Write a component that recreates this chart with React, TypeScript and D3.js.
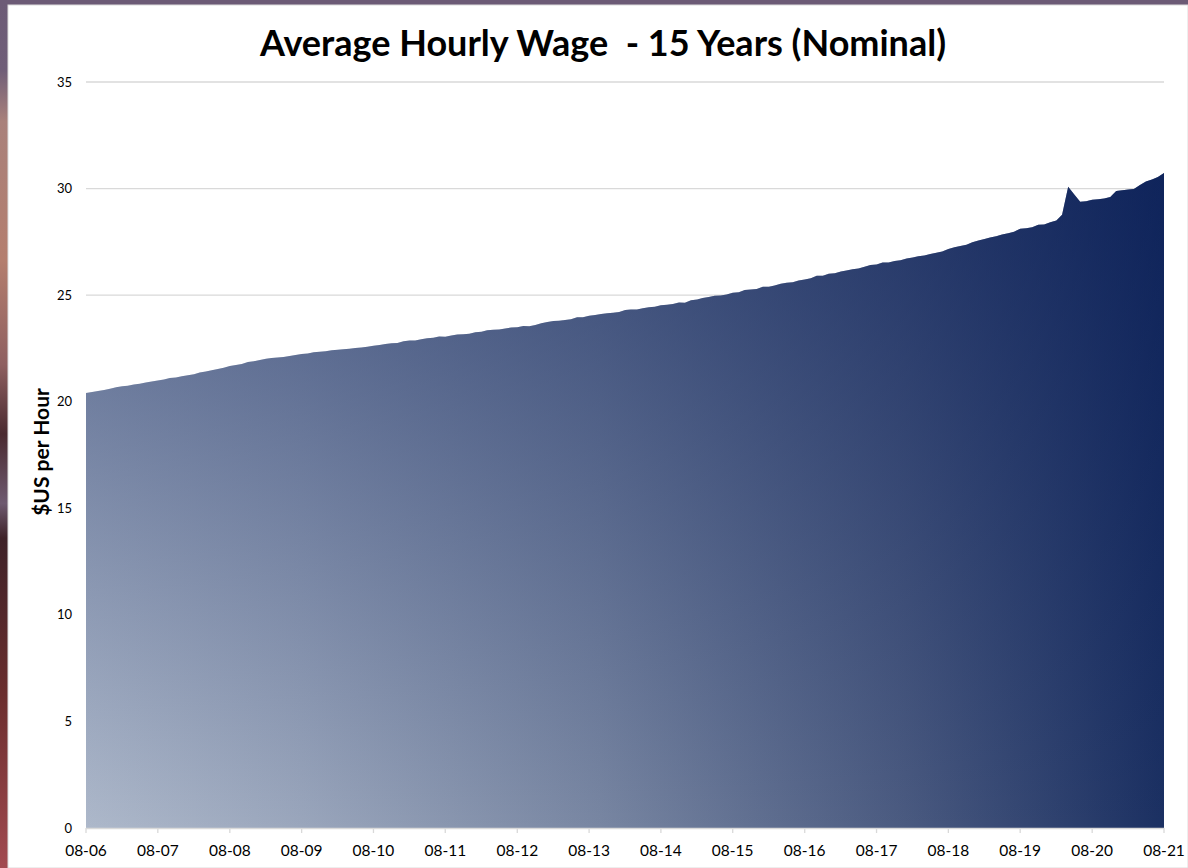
import React, { useEffect, useRef } from "react";
import * as d3 from "d3";

const startYear = 2006;
const startMonth = 7; // August (0-based)
const wages: number[] = [
  // 2006 Aug-Dec
  20.41, 20.45, 20.50, 20.55, 20.61,
  // 2007
  20.68, 20.72, 20.75, 20.81, 20.84, 20.90, 20.95, 21.00, 21.04, 21.11, 21.14, 21.19,
  // 2008
  21.24, 21.29, 21.37, 21.42, 21.48, 21.54, 21.59, 21.67, 21.72, 21.77, 21.86, 21.90,
  // 2009
  21.96, 22.01, 22.05, 22.07, 22.10, 22.14, 22.19, 22.24, 22.26, 22.32, 22.35, 22.37,
  // 2010
  22.41, 22.44, 22.46, 22.48, 22.52, 22.54, 22.58, 22.63, 22.66, 22.71, 22.74, 22.75,
  // 2011
  22.84, 22.87, 22.87, 22.93, 22.98, 23.00, 23.06, 23.05, 23.11, 23.15, 23.17, 23.19,
  // 2012
  23.26, 23.28, 23.35, 23.38, 23.39, 23.43, 23.48, 23.49, 23.55, 23.54, 23.60, 23.68,
  // 2013
  23.74, 23.79, 23.80, 23.83, 23.87, 23.96, 23.96, 24.03, 24.07, 24.11, 24.15, 24.17,
  // 2014
  24.21, 24.30, 24.33, 24.33, 24.38, 24.43, 24.45, 24.52, 24.55, 24.59, 24.66, 24.64,
  // 2015
  24.76, 24.79, 24.87, 24.91, 24.97, 24.98, 25.03, 25.11, 25.14, 25.24, 25.26, 25.29,
  // 2016
  25.39, 25.39, 25.45, 25.53, 25.58, 25.61, 25.69, 25.73, 25.79, 25.91, 25.91, 26.00,
  // 2017
  26.03, 26.11, 26.16, 26.21, 26.25, 26.33, 26.42, 26.44, 26.53, 26.53, 26.60, 26.64,
  // 2018
  26.72, 26.77, 26.82, 26.86, 26.93, 26.99, 27.05, 27.16, 27.25, 27.30, 27.36, 27.48,
  // 2019
  27.56, 27.63, 27.71, 27.76, 27.84, 27.90, 27.98, 28.11, 28.14, 28.19, 28.30, 28.32,
  // 2020
  28.42, 28.50, 28.77, 30.08, 29.73, 29.38, 29.40, 29.47, 29.50, 29.53, 29.60, 29.89,
  // 2021 Jan-Aug
  29.92, 29.96, 29.98, 30.17, 30.33, 30.43, 30.54, 30.73,
];
const yTicks = [0, 5, 10, 15, 20, 25, 30, 35];
const xTickLabels = ["08-06", "08-07", "08-08", "08-09", "08-10", "08-11", "08-12", "08-13", "08-14", "08-15", "08-16", "08-17", "08-18", "08-19", "08-20", "08-21"];
const title = "Average Hourly Wage  - 15 Years (Nominal)";
const yLabel = "$US per Hour";

export default function App() {
  const ref = useRef<SVGSVGElement>(null);
  useEffect(() => {
    const svg = d3.select(ref.current);
    svg.selectAll("*").remove();
    const W = 1188, H = 868;
    const L = 86, R = 1164, T = 82, B = 828;
    const font = "Lato, 'Open Sans', sans-serif";

    const defs = svg.append("defs");
    const side = defs.append("linearGradient").attr("id", "side").attr("x1", 0).attr("y1", 0).attr("x2", 0).attr("y2", 1);
    [[0, "#6c5b76"], [0.08, "#6f5e78"], [0.14, "#a9817b"], [0.3, "#b47e6e"], [0.42, "#8e6060"], [0.5, "#4a2a30"], [0.58, "#6e5a70"], [0.62, "#3e2228"], [0.8, "#6a2e2e"], [1, "#a24a50"]]
      .forEach(([o, c]) => side.append("stop").attr("offset", o as number).attr("stop-color", c as string));

    const base = defs.append("linearGradient").attr("id", "base").attr("gradientUnits", "userSpaceOnUse")
      .attr("x1", L).attr("y1", 0).attr("x2", R).attr("y2", 0);
    [[0, "#adb8ca"], [0.2, "#9aa6bc"], [0.477, "#7886a2"], [0.76, "#4a5a80"], [1, "#1b3062"]]
      .forEach(([o, c]) => base.append("stop").attr("offset", o as number).attr("stop-color", c as string));

    const shade = defs.append("linearGradient").attr("id", "shade").attr("gradientUnits", "userSpaceOnUse")
      .attr("x1", 0).attr("y1", B).attr("x2", 0).attr("y2", 173);
    shade.append("stop").attr("offset", 0).attr("stop-color", "#051a55").attr("stop-opacity", 0);
    shade.append("stop").attr("offset", 1).attr("stop-color", "#051a55").attr("stop-opacity", 0.55);

    svg.append("rect").attr("width", W).attr("height", H).attr("fill", "#6c5b76");
    svg.append("rect").attr("x", 0).attr("y", 0).attr("width", 9).attr("height", H).attr("fill", "url(#side)");
    svg.append("rect").attr("x", 8).attr("y", 5).attr("width", W - 8).attr("height", H - 5).attr("fill", "#ffffff").attr("stroke", "#dcdcdc").attr("stroke-width", 1);

    const x = d3.scaleTime().domain([new Date(startYear, startMonth, 1), new Date(startYear + 15, startMonth, 1)]).range([L, R]);
    const y = d3.scaleLinear().domain([0, 35]).range([B, T]);

    const data = wages.map((v, i) => ({ d: new Date(startYear, startMonth + i, 1), v }));

    // gridlines
    svg.append("g").selectAll("line").data(yTicks.filter(t => t > 0)).join("line")
      .attr("x1", L).attr("x2", R).attr("y1", d => y(d)).attr("y2", d => y(d))
      .attr("stroke", "#d9d9d9").attr("stroke-width", 1.3);

    const area = d3.area<{ d: Date; v: number }>().x(p => x(p.d)).y0(y(0)).y1(p => y(p.v));
    svg.append("path").datum(data).attr("d", area).attr("fill", "url(#base)");
    svg.append("path").datum(data).attr("d", area).attr("fill", "url(#shade)");

    // y tick labels
    svg.append("g").selectAll("text").data(yTicks).join("text")
      .attr("x", 72).attr("y", d => y(d)).attr("dy", "0.35em").attr("text-anchor", "end")
      .attr("font-family", font).attr("font-size", 13).attr("fill", "#000").text(d => String(d));

    // x axis line and ticks
    svg.append("line").attr("x1", L).attr("x2", R).attr("y1", B + 0.5).attr("y2", B + 0.5).attr("stroke", "#d9d9d9").attr("stroke-width", 1.3);
    const xTickDates = xTickLabels.map((_, i) => new Date(startYear + i, startMonth, 1));
    svg.append("g").selectAll("line").data(xTickDates).join("line")
      .attr("x1", d => x(d)).attr("x2", d => x(d)).attr("y1", B).attr("y2", B + 5)
      .attr("stroke", "#d9d9d9").attr("stroke-width", 1.3);
    svg.append("g").selectAll("text").data(xTickLabels).join("text")
      .attr("x", (_, i) => x(xTickDates[i])).attr("y", 851).attr("dy", "0.35em").attr("text-anchor", "middle")
      .attr("font-family", font).attr("font-size", 15.5).attr("fill", "#000").text(d => d);

    svg.append("text").attr("x", 603).attr("y", 43).attr("dy", "0.35em").attr("text-anchor", "middle")
      .attr("font-family", font).attr("font-weight", "bold").attr("font-size", 36).attr("fill", "#000")
      .style("white-space", "pre").text(title);

    svg.append("text").attr("transform", "translate(42,452) rotate(-90)").attr("dy", "0.35em").attr("text-anchor", "middle")
      .attr("font-family", font).attr("font-weight", "bold").attr("font-size", 21).attr("fill", "#000").text(yLabel);
  }, []);
  return <svg ref={ref} width={1188} height={868} style={{ position: "absolute", left: 0, top: 0 }} />;
}
